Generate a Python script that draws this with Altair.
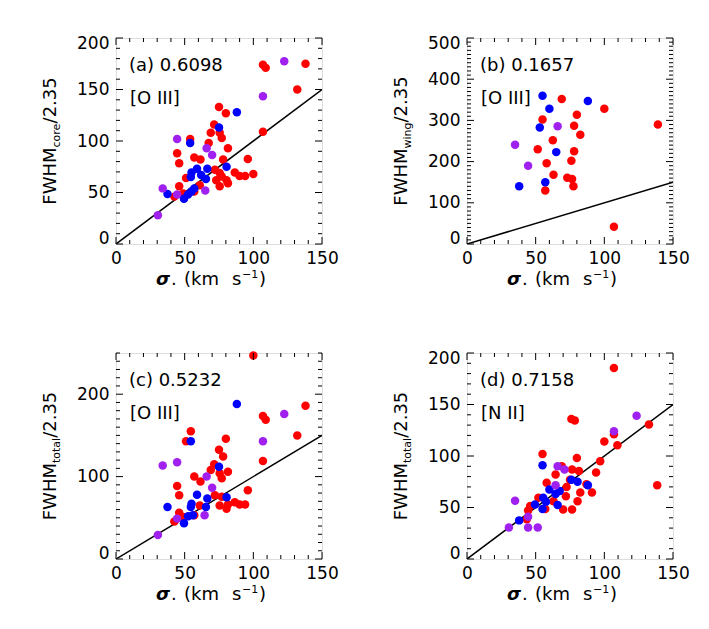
import altair as alt
import pandas as pd

# ---------------- data ----------------
A_RED_X = [107, 109, 138, 132, 107, 75, 80, 71.5, 69, 75.5, 77, 54, 67.5, 81.5, 44.5, 57, 61.5, 46, 78, 96,
           72, 75.5, 86.5, 90, 94, 100, 80.5, 75.5, 81.5, 51, 46, 61, 57, 42.5, 49, 77, 73]
A_RED_Y = [174, 171, 175, 150, 109, 133, 127, 116, 108, 108, 103, 102, 98, 93, 88, 84, 82, 78.5, 82, 82.5,
           72, 69, 69.5, 66, 66, 68, 62, 56, 59, 64, 56, 57, 51, 46, 49, 65.5, 62]
A_BLUE_X = [88, 75, 54, 80.5, 66.5, 59, 55, 54.5, 65.5, 57, 55, 52.5, 49.5, 37.5, 62]
A_BLUE_Y = [128, 113, 98, 75, 73, 73, 69.5, 65, 63, 54, 51, 48, 44, 48.5, 67]
A_PURPLE_X = [122.5, 107, 44.5, 66, 70, 34, 44.5, 65, 30.5]
A_PURPLE_Y = [177.5, 143.5, 102, 93, 86.5, 54, 48, 52, 28]

B_RED_X = [69, 100, 139, 80, 55, 78, 82.5, 62.5, 51.5, 78, 76, 58, 63, 73, 76.5, 77.5, 57, 107]
B_RED_Y = [352, 328, 290, 314, 302, 287, 265, 252, 230, 225, 202, 196, 168, 161, 158, 140, 130, 42]
B_BLUE_X = [55, 60, 88, 53, 65, 57, 38]
B_BLUE_Y = [360, 328, 347, 283, 223, 150, 140]
B_PURPLE_X = [66, 35, 44.5]
B_PURPLE_Y = [286, 241, 190]

C_RED_X = [100, 138, 107, 109, 132, 107, 54.5, 51, 80, 75, 78, 71.5, 69, 81.5, 75.5, 57, 61.5, 77, 44.5, 46,
           96, 72, 77, 86.5, 90, 94, 80.5, 75.5, 81.5, 61, 46, 57, 42.5, 49]
C_RED_Y = [247, 186, 173.5, 169, 150, 119, 155, 143, 146, 132.5, 124.5, 115, 108, 106, 104, 100, 94, 98, 88.5, 77.5,
           83.5, 77.5, 75.5, 69, 66, 66, 61, 65, 66, 65, 56, 53, 45.5, 51]
C_BLUE_X = [88, 54.5, 75, 80.5, 59, 66.5, 55, 54.5, 65.5, 37.5, 56, 52.5, 49.5]
C_BLUE_Y = [188, 143, 112, 75, 78, 73.5, 67, 63, 63, 63, 53, 52, 43.5]
C_PURPLE_X = [122.5, 107, 34, 44.5, 66, 70, 64.5, 44.5, 30.5]
C_PURPLE_Y = [176, 143, 113.5, 117.5, 100, 86.5, 53, 49, 29]

D_RED_X = [107, 76, 78.5, 132.5, 107, 100, 109.5, 55, 80, 97, 69, 76.5, 81.5, 64.5, 94, 138.5, 75, 87, 58, 72.5,
           82.5, 91, 72, 52, 80.5, 63, 70, 76.5, 46, 44.5, 43.5, 57]
D_RED_Y = [185.5, 136, 134.5, 130.5, 121, 114, 110.5, 102, 98, 95, 90, 87, 85.5, 82, 84, 71.5, 77, 72.5, 74, 70,
           64.5, 64.5, 61, 59.5, 56, 56, 48, 48, 51.5, 47, 38.5, 48.5]
D_BLUE_X = [55, 76, 80.5, 88, 60, 67.5, 64.5, 55.5, 57.5, 49.5, 55, 66, 38]
D_BLUE_Y = [91, 77, 75, 71.5, 67.5, 66, 63, 59.5, 55.5, 53, 48.5, 52.5, 37.5]
D_PURPLE_X = [123.5, 107, 66, 71, 64.5, 35, 44.5, 30.5, 44.5, 51.5]
D_PURPLE_Y = [139, 124, 90, 87, 71.5, 56.5, 41, 30.5, 30.5, 30.5]

GROUPS = ["red", "blue", "purple"]
COLORS = ["#ff0000", "#0000ff", "#a020f0"]

X_MAJOR = [0, 50, 100, 150]
PANELS = [
    dict(letter="a", corr="0.6098", ion="[O III]", sub="core", ymax=200, ymajor=[0, 50, 100, 150, 200],
         red=(A_RED_X, A_RED_Y), blue=(A_BLUE_X, A_BLUE_Y), purple=(A_PURPLE_X, A_PURPLE_Y)),
    dict(letter="b", corr="0.1657", ion="[O III]", sub="wing", ymax=500, ymajor=[0, 100, 200, 300, 400, 500],
         red=(B_RED_X, B_RED_Y), blue=(B_BLUE_X, B_BLUE_Y), purple=(B_PURPLE_X, B_PURPLE_Y)),
    dict(letter="c", corr="0.5232", ion="[O III]", sub="total", ymax=250, ymajor=[0, 100, 200],
         red=(C_RED_X, C_RED_Y), blue=(C_BLUE_X, C_BLUE_Y), purple=(C_PURPLE_X, C_PURPLE_Y)),
    dict(letter="d", corr="0.7158", ion="[N II]", sub="total", ymax=200, ymajor=[0, 50, 100, 150, 200],
         red=(D_RED_X, D_RED_Y), blue=(D_BLUE_X, D_BLUE_Y), purple=(D_PURPLE_X, D_PURPLE_Y)),
]

# ---------------- styling ----------------
W = H = 206
FONT = "DejaVu Sans"
BIG = 18
TICKFS = 17
SUBFS = 11
MAJ_LEN = 7
MIN_LEN = 4
SUB_W = {"core": 24.1, "wing": 26.0, "total": 25.2}
FWHM_W = 57.2
REST_W = 46.1


def text_layer(t, x, y, size=BIG, align="left", angle=0, baseline="alphabetic", style="normal", weight="normal"):
    kw = dict(font=FONT, fontSize=size, align=align, baseline=baseline, color="black",
              fontStyle=style, fontWeight=weight)
    if angle:
        kw["angle"] = angle
    return alt.Chart(pd.DataFrame({"t": [t]})).mark_text(**kw).encode(
        text="t:N", x=alt.value(x), y=alt.value(y))


def panel(p):
    xs = alt.Scale(domain=[0, 150], nice=False, zero=False)
    ys = alt.Scale(domain=[0, p["ymax"]], nice=False, zero=False)
    xaxis = alt.Axis(values=X_MAJOR, ticks=False, domain=False, grid=False, labelFont=FONT,
                     labelFontSize=TICKFS, labelColor="black", labelPadding=6, labelFlush=False,
                     labelOverlap=False, title=None, format="d")
    yaxis = alt.Axis(values=p["ymajor"], ticks=False, domain=False, grid=False, labelFont=FONT,
                     labelFontSize=TICKFS, labelColor="black", labelPadding=7, labelFlush=True,
                     labelFlushOffset=3, labelOverlap=False, title=None, format="d")
    X = alt.X("x:Q", scale=xs, axis=xaxis)
    Y = alt.Y("y:Q", scale=ys, axis=yaxis)

    rows = []
    for g in GROUPS:
        gx, gy = p[g]
        for a, b in zip(gx, gy):
            rows.append({"x": a, "y": b, "g": g})
    pts_df = pd.DataFrame(rows)
    pts = alt.Chart(pts_df).mark_circle(size=72, opacity=1).encode(
        x=X, y=Y,
        color=alt.Color("g:N", scale=alt.Scale(domain=GROUPS, range=COLORS), legend=None))

    line = alt.Chart(pd.DataFrame({"x": [0, 150], "y": [0, 150]})).mark_line(
        color="black", strokeWidth=1.5, clip=True).encode(x=X, y=Y)

    x_minor = [v for v in range(0, 151, 10) if v not in X_MAJOR]
    y_minor = [v for v in range(0, p["ymax"] + 1, 10) if v not in p["ymajor"]]
    xmaj = pd.DataFrame({"x": X_MAJOR})
    xmin = pd.DataFrame({"x": x_minor})
    ymaj = pd.DataFrame({"y": p["ymajor"]})
    ymin = pd.DataFrame({"y": y_minor})

    ticks = []
    for df, ln in ((xmaj, MAJ_LEN), (xmin, MIN_LEN)):
        ticks.append(alt.Chart(df).mark_rule(color="black", strokeWidth=1).encode(
            x=X, y=alt.value(H), y2=alt.value(H - ln)))
        ticks.append(alt.Chart(df).mark_rule(color="black", strokeWidth=1).encode(
            x=X, y=alt.value(0), y2=alt.value(ln)))
    for df, ln in ((ymaj, MAJ_LEN), (ymin, MIN_LEN)):
        ticks.append(alt.Chart(df).mark_rule(color="black", strokeWidth=1).encode(
            y=Y, x=alt.value(0), x2=alt.value(ln)))
        ticks.append(alt.Chart(df).mark_rule(color="black", strokeWidth=1).encode(
            y=Y, x=alt.value(W), x2=alt.value(W - ln)))

    # annotations
    texts = [
        text_layer(f"({p['letter']}) {p['corr']}", 13, 33),
        text_layer(p["ion"], 14, 66),
    ]
    # y title: FWHM_sub/2.35 (rotated)
    sw = SUB_W[p["sub"]]
    total = FWHM_W + sw + REST_W
    y0 = H / 2 + total / 2
    bx = -60
    texts.append(text_layer("FWHM", bx, y0, angle=270))
    texts.append(text_layer(p["sub"], bx + 4, y0 - FWHM_W, size=SUBFS, angle=270))
    texts.append(text_layer("/2.35", bx, y0 - FWHM_W - sw, angle=270))
    # x title: sigma_* (km s^-1)
    ty = H + 41
    texts.append(text_layer("σ", 54, ty, align="right", style="italic", weight="bold"))
    texts.append(text_layer(".", 55, ty))
    texts.append(text_layer("(km", 68, ty))
    texts.append(text_layer("s", 116, ty))
    texts.append(text_layer("−1", 126, ty - 7, size=11))
    texts.append(text_layer(")", 143, ty))

    return alt.layer(line, pts, *ticks, *texts).properties(width=W, height=H)


charts = [panel(p) for p in PANELS]
chart = alt.concat(*charts, columns=2, spacing={"row": 109, "column": 145}, bounds="flush").properties(
    padding={"left": 33, "top": 25, "right": 5, "bottom": 5},
    background="white",
).configure_view(stroke="black", strokeWidth=1.3).configure(font=FONT)

chart.save("out.html", embed_options={"renderer": "svg", "actions": False})
